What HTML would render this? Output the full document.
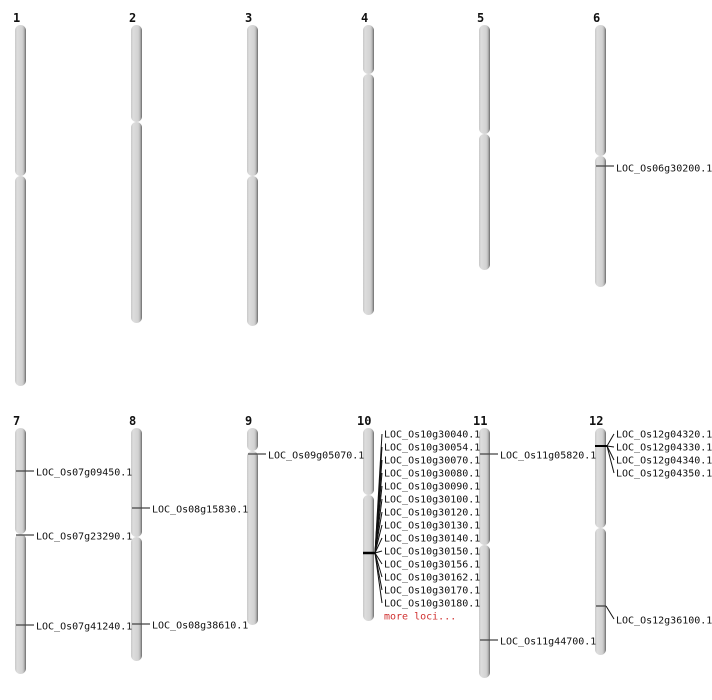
<!DOCTYPE html>
<html><head><meta charset="utf-8"><style>
html,body{margin:0;padding:0;background:#fff;width:712px;height:700px;overflow:hidden}
svg{display:block}
.n{font-family:"DejaVu Sans Mono","Liberation Mono",monospace;font-weight:bold;font-size:12px;fill:#111}
.t{font-family:"DejaVu Sans Mono","Liberation Mono",monospace;font-size:10px;fill:#111}
.m{stroke:#444;stroke-width:1.3}
.k{stroke:#111;stroke-width:1}
</style></head><body>
<svg width="712" height="700" viewBox="0 0 712 700" xmlns="http://www.w3.org/2000/svg">
<defs><linearGradient id="g" x1="0" x2="1" y1="0" y2="0">
<stop offset="0" stop-color="#c8c8c8"/><stop offset="0.2" stop-color="#dddddd"/><stop offset="0.65" stop-color="#d3d3d3"/><stop offset="0.82" stop-color="#b8b8b8"/><stop offset="1" stop-color="#6a6a6a"/>
</linearGradient></defs>
<g fill="url(#g)">
<rect x="15" y="25" width="11" height="151" rx="5.5"/><rect x="15" y="176" width="11" height="210" rx="5.5"/>
<rect x="131" y="25" width="11" height="97" rx="5.5"/><rect x="131" y="122" width="11" height="201" rx="5.5"/>
<rect x="247" y="25" width="11" height="151" rx="5.5"/><rect x="247" y="176" width="11" height="150" rx="5.5"/>
<rect x="363" y="25" width="11" height="49" rx="5.5"/><rect x="363" y="74" width="11" height="241" rx="5.5"/>
<rect x="479" y="25" width="11" height="109" rx="5.5"/><rect x="479" y="134" width="11" height="136" rx="5.5"/>
<rect x="595" y="25" width="11" height="131" rx="5.5"/><rect x="595" y="156" width="11" height="131" rx="5.5"/>
<rect x="15" y="428" width="11" height="106" rx="5.5"/><rect x="15" y="534" width="11" height="140" rx="5.5"/>
<rect x="131" y="428" width="11" height="109" rx="5.5"/><rect x="131" y="537" width="11" height="124" rx="5.5"/>
<rect x="247" y="428" width="11" height="23" rx="5.5"/><rect x="247" y="451" width="11" height="174" rx="5.5"/>
<rect x="363" y="428" width="11" height="67" rx="5.5"/><rect x="363" y="495" width="11" height="126" rx="5.5"/>
<rect x="479" y="428" width="11" height="117" rx="5.5"/><rect x="479" y="545" width="11" height="133" rx="5.5"/>
<rect x="595" y="428" width="11" height="100" rx="5.5"/><rect x="595" y="528" width="11" height="127" rx="5.5"/>
</g>
<g class="n">
<text x="13" y="22">1</text><text x="129" y="22">2</text><text x="245" y="22">3</text><text x="361" y="22">4</text><text x="477" y="22">5</text><text x="593" y="22">6</text>
<text x="13" y="425">7</text><text x="129" y="425">8</text><text x="245" y="425">9</text><text x="357" y="425">10</text><text x="473" y="425">11</text><text x="589" y="425">12</text>
</g>
<g class="m">
<line x1="596" y1="166" x2="614" y2="166"/>
<line x1="16" y1="471" x2="34" y2="471"/>
<line x1="16" y1="535" x2="34" y2="535"/>
<line x1="16" y1="625" x2="34" y2="625"/>
<line x1="132" y1="508" x2="150" y2="508"/>
<line x1="132" y1="624" x2="150" y2="624"/>
<line x1="248" y1="454" x2="266" y2="454"/>
<line x1="480" y1="454" x2="498" y2="454"/>
<line x1="480" y1="640" x2="498" y2="640"/>
<line x1="596" y1="606" x2="606" y2="606"/>
</g>
<line x1="606" y1="606" x2="614" y2="619" class="k"/>
<line x1="363" y1="553" x2="375" y2="553" stroke="#000" stroke-width="2.5"/>
<line x1="595" y1="446" x2="607" y2="446" stroke="#000" stroke-width="2"/>
<g class="k">
<line x1="375" y1="553" x2="382" y2="434"/><line x1="375" y1="553" x2="382" y2="447"/><line x1="375" y1="553" x2="382" y2="460"/><line x1="375" y1="553" x2="382" y2="473"/><line x1="375" y1="553" x2="382" y2="486"/><line x1="375" y1="553" x2="382" y2="499"/><line x1="375" y1="553" x2="382" y2="512"/><line x1="375" y1="553" x2="382" y2="525"/><line x1="375" y1="553" x2="382" y2="538"/><line x1="375" y1="553" x2="382" y2="551"/><line x1="375" y1="553" x2="382" y2="564"/><line x1="375" y1="553" x2="382" y2="577"/><line x1="375" y1="553" x2="382" y2="590"/><line x1="375" y1="553" x2="382" y2="603"/>
<line x1="607" y1="446" x2="614" y2="434"/><line x1="607" y1="446" x2="614" y2="447"/><line x1="607" y1="446" x2="614" y2="460"/><line x1="607" y1="446" x2="614" y2="473"/>
</g>
<g class="t" dominant-baseline="central" transform="translate(0,1)">
<text x="616" y="168">LOC_Os06g30200.1</text>
<text x="36" y="472">LOC_Os07g09450.1</text>
<text x="36" y="536">LOC_Os07g23290.1</text>
<text x="36" y="626">LOC_Os07g41240.1</text>
<text x="152" y="509">LOC_Os08g15830.1</text>
<text x="152" y="625">LOC_Os08g38610.1</text>
<text x="268" y="455">LOC_Os09g05070.1</text>
<text x="500" y="455">LOC_Os11g05820.1</text>
<text x="500" y="641">LOC_Os11g44700.1</text>
<text x="616" y="620">LOC_Os12g36100.1</text>
<text x="616" y="434">LOC_Os12g04320.1</text>
<text x="616" y="447">LOC_Os12g04330.1</text>
<text x="616" y="460">LOC_Os12g04340.1</text>
<text x="616" y="473">LOC_Os12g04350.1</text>
<text x="384" y="434">LOC_Os10g30040.1</text>
<text x="384" y="447">LOC_Os10g30054.1</text>
<text x="384" y="460">LOC_Os10g30070.1</text>
<text x="384" y="473">LOC_Os10g30080.1</text>
<text x="384" y="486">LOC_Os10g30090.1</text>
<text x="384" y="499">LOC_Os10g30100.1</text>
<text x="384" y="512">LOC_Os10g30120.1</text>
<text x="384" y="525">LOC_Os10g30130.1</text>
<text x="384" y="538">LOC_Os10g30140.1</text>
<text x="384" y="551">LOC_Os10g30150.1</text>
<text x="384" y="564">LOC_Os10g30156.1</text>
<text x="384" y="577">LOC_Os10g30162.1</text>
<text x="384" y="590">LOC_Os10g30170.1</text>
<text x="384" y="603">LOC_Os10g30180.1</text>
<text x="384" y="616" style="fill:#d03030">more loci...</text>
</g>
</svg>
</body></html>
